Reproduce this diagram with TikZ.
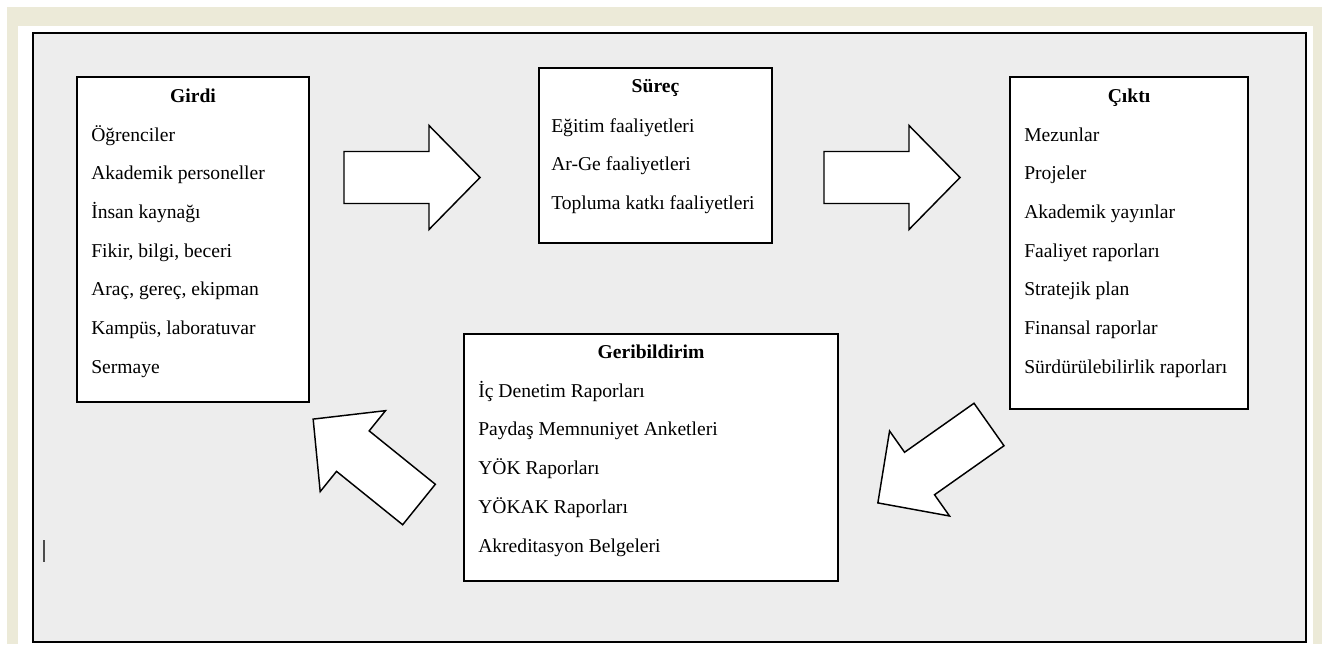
\documentclass[tikz,border=0pt]{standalone}
\usepackage{fontspec}
\setmainfont{Liberation Serif}
\usetikzlibrary{calc}

\definecolor{krem}{RGB}{236,234,216}
\definecolor{zemin}{RGB}{237,237,237}

\newcommand{\yazi}{\fontsize{14.7}{17}\selectfont}

\tikzset{
  kutu/.style={draw=black, line width=1.5pt, fill=white, inner sep=0pt},
  baslik/.style={anchor=base, inner sep=0pt, font=\yazi\bfseries},
  madde/.style={anchor=base west, inner sep=0pt, font=\yazi},
  blokok/.pic={
    \draw[line width=1.1pt, fill=white, line join=miter]
      (0,-26) -- (85,-26) -- (85,-52) -- (136,0) -- (85,52) -- (85,26) -- (0,26) -- cycle;
  }
}

\begin{document}
\begin{tikzpicture}[x=0.75pt, y=-0.75pt]

\useasboundingbox (0,0) rectangle (1322,644);

% zemin
\fill[white] (0,0) rectangle (1322,644);
\fill[krem] (7,7) rectangle (1322,644);
\fill[white] (18,26) rectangle (1313,644);
\draw[line width=1.6pt, fill=zemin] (33,33) rectangle (1306,642);
\draw[line width=1pt, black!70] (44,540) -- (44,562);

% Girdi
\node[kutu, minimum width=174pt, minimum height=243.75pt] (girdi) at (193,239.5) {};
\node[baslik] (girdi-b) at ($(girdi.north)+(0,26)$) {Girdi};
\foreach \t [count=\i] in {Öğrenciler, Akademik personeller, İnsan kaynağı,
    {Fikir, bilgi, beceri}, {Araç, gereç, ekipman}, {Kampüs, laboratuvar}, Sermaye}
  \node[madde] (girdi-\i) at ($(girdi.north west)+(15,65+38.7*\i-38.7)$) {\t};

% Surec
\node[kutu, minimum width=174.75pt, minimum height=131.25pt] (surec) at (655.5,155.5) {};
\node[baslik] (surec-b) at ($(surec.north)+(0,25)$) {Süreç};
\foreach \t [count=\i] in {Eğitim faaliyetleri, Ar-Ge faaliyetleri, Topluma katkı faaliyetleri}
  \node[madde] (surec-\i) at ($(surec.north west)+(13,65+38.7*\i-38.7)$) {\t};

% Cikti
\node[kutu, minimum width=178.5pt, minimum height=249pt] (cikti) at (1129,243) {};
\node[baslik] (cikti-b) at ($(cikti.north)+(0,26)$) {Çıktı};
\foreach \t [count=\i] in {Mezunlar, Projeler, Akademik yayınlar, Faaliyet raporları,
    Stratejik plan, Finansal raporlar, Sürdürülebilirlik raporları}
  \node[madde] (cikti-\i) at ($(cikti.north west)+(15,65+38.7*\i-38.7)$) {\t};

% Geribildirim
\node[kutu, minimum width=280.5pt, minimum height=185.25pt] (geri) at (651,457.5) {};
\node[baslik] (geri-b) at ($(geri.north)+(0,25)$) {Geribildirim};
\foreach \t [count=\i] in {İç Denetim Raporları, Paydaş Memnuniyet Anketleri, YÖK Raporları,
    YÖKAK Raporları, Akreditasyon Belgeleri}
  \node[madde] (geri-\i) at ($(geri.north west)+(15,64+38.8*\i-38.8)$) {\t};

% oklar
\pic (ok1) at (344,177.5) {blokok};
\pic (ok2) at (824,177.5) {blokok};
\pic (ok3) [rotate=215.2] at (989,424.5) {blokok};
\pic (ok4) [rotate=141.1] at (419,504.5) {blokok};

\end{tikzpicture}
\end{document}
